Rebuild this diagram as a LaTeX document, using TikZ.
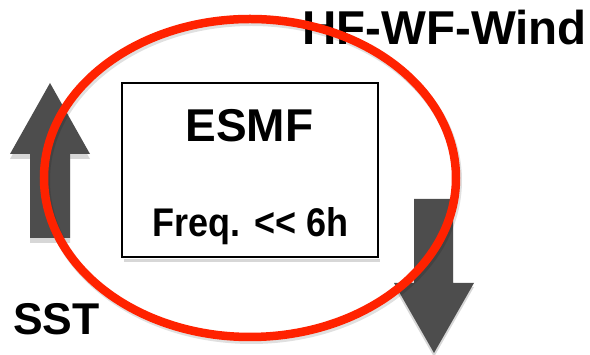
\documentclass[tikz,border=0pt]{standalone}
\usepackage{fontspec}
\setmainfont{Liberation Sans}
\usetikzlibrary{calc}
\definecolor{arrowgrey}{RGB}{77,77,77}
\definecolor{shadowgrey}{RGB}{215,215,215}
\definecolor{ringred}{RGB}{255,34,0}
\tikzset{
  bigarrow/.style={fill=arrowgrey, draw=none},
  arrowshadow/.style={fill=shadowgrey, draw=none},
  label/.style={inner sep=0pt, font=\bfseries},
  framebox/.style={draw=black, line width=2pt, fill=white},
  ring/.style={draw=ringred, line width=8.5pt},
  ringshadow/.style={draw=black, opacity=0.12, line width=9pt}
}
\begin{document}
\begin{tikzpicture}[x=1pt,y=1pt]
\useasboundingbox (0,0) rectangle (590,355);
% up arrow (SST)
\fill[arrowshadow] (50,355-88) -- (90,355-159) -- (70,355-159) -- (70,355-243) -- (30,355-243) -- (30,355-159) -- (10,355-159) -- cycle;
\fill[bigarrow] (50,355-83) -- (90,355-154) -- (70,355-154) -- (70,355-238) -- (30,355-238) -- (30,355-154) -- (10,355-154) -- cycle;
% down arrow (HF-WF-Wind)
\fill[arrowshadow] (414,355-203) -- (453,355-203) -- (453,355-287) -- (474,355-287) -- (434,355-357) -- (394,355-287) -- (414,355-287) -- cycle;
\fill[bigarrow] (414,355-199) -- (453,355-199) -- (453,355-283) -- (474,355-283) -- (434,355-353) -- (394,355-283) -- (414,355-283) -- cycle;
% box
\fill[shadowgrey] (124,355-259) rectangle (380,355-262);
\node[framebox, minimum width=256pt, minimum height=174pt, inner sep=0pt] (box) at (250,355-170) {};
\node[label, font=\fontsize{46}{46}\bfseries\selectfont, anchor=base] (esmf) at (249.5,355-142) {ESMF};
\node[label, font=\fontsize{40}{40}\bfseries\selectfont, anchor=base] (freq) at (250.5,355-237) {\scalebox{0.9}[1]{Freq. {<}{<} 6h}};
% labels
\node[label, font=\fontsize{47.5}{47.5}\bfseries\selectfont, anchor=base west] (wind) at (302,355-45) {HF-WF-Wind};
\node[label, font=\fontsize{44.5}{44.5}\bfseries\selectfont, anchor=base west] (sst) at (13,355-335) {SST};
% ring
\draw[ringshadow] (251.5,355-180.5) ellipse [x radius=206, y radius=159];
\draw[ring] (250,355-178) ellipse [x radius=206, y radius=159];
\end{tikzpicture}
\end{document}
